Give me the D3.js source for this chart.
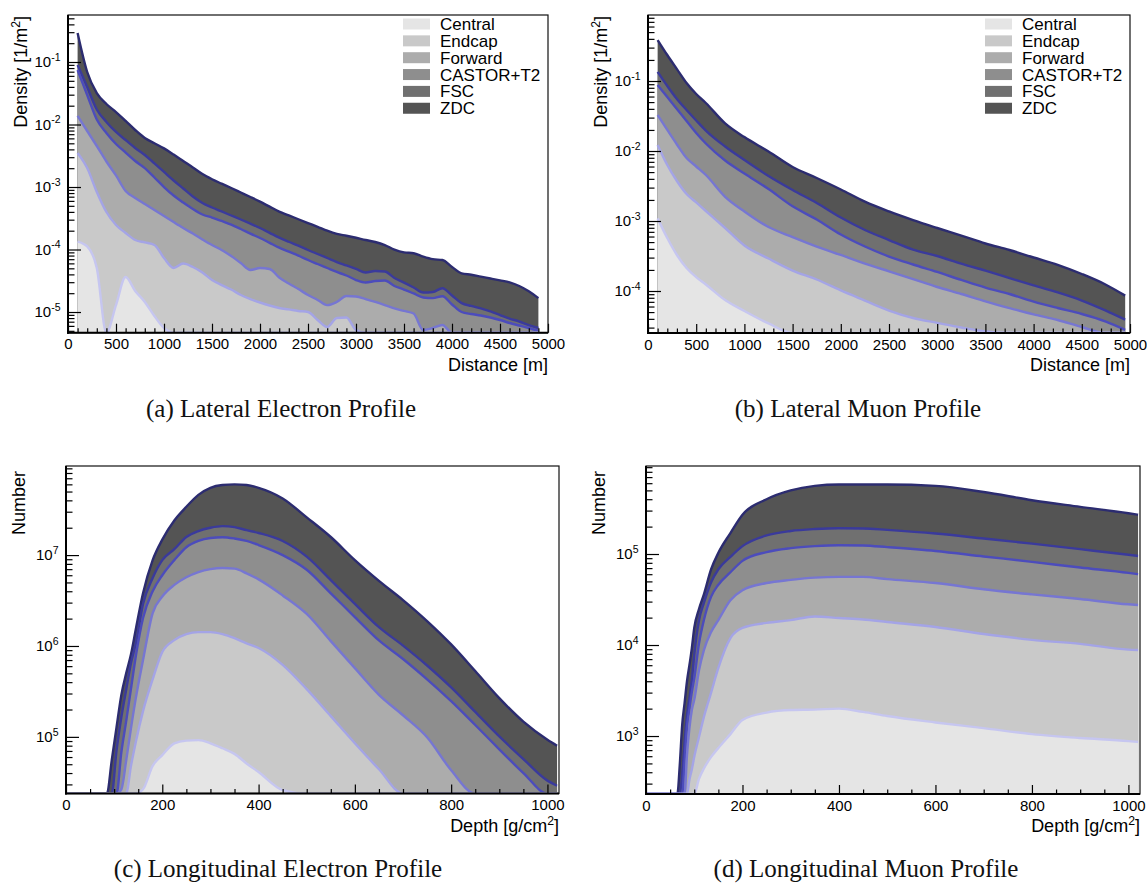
<!DOCTYPE html>
<html>
<head>
<meta charset="utf-8">
<script src="https://cdn.jsdelivr.net/npm/d3@7"></script>
<style>
  body { margin: 0; background: #fff; }
  svg { display: block; }
</style>
</head>
<body>
<svg id="fig" width="1147" height="886"></svg>
<script>
// Detector groups, innermost first; each series below holds the running (stacked) total
// up to and including that detector, so the last series is the full sum.
const detectorNames = ["Central", "Endcap", "Forward", "CASTOR+T2", "FSC", "ZDC"];

// ---- (a) lateral electron density [1/m^2] vs distance [m]
const electronLateralDistance = [100, 200, 300, 400, 500, 600, 700, 800, 900, 1000,
  1100, 1200, 1300, 1400, 1500, 1600, 1700, 1800, 1900, 2000,
  2100, 2200, 2300, 2400, 2500, 2600, 2700, 2800, 2900, 3000,
  3100, 3200, 3300, 3400, 3500, 3600, 3700, 3800, 3900, 4000,
  4100, 4200, 4300, 4400, 4500, 4600, 4700, 4800, 4900];
const electronLateralCentral = [1.34e-4, 1.12e-4, 5.06e-5, 0, 1.29e-5, 3.63e-5, 2.17e-5, 1.45e-5, 8.63e-6, 5.55e-6,
  0, 0, 0, 0, 0, 0, 0, 0, 0, 0, 0, 0, 0, 0, 0, 0, 0, 0, 0, 0,
  0, 0, 0, 0, 0, 0, 0, 0, 0, 0, 0, 0, 0, 0, 0, 0, 0, 0, 0];
const electronLateralEndcap = [3.50e-3, 2.01e-3, 8.32e-4, 3.98e-4, 2.47e-4, 1.84e-4, 1.42e-4, 1.30e-4, 1.18e-4, 7.31e-5,
  5.06e-5, 5.97e-5, 5.25e-5, 4.29e-5, 3.25e-5, 2.70e-5, 2.29e-5, 1.87e-5, 1.61e-5, 1.42e-5,
  1.27e-5, 1.16e-5, 1.10e-5, 1.04e-5, 1.00e-5, 7.45e-6, 5.75e-6, 8.02e-6, 8.17e-6, 5.15e-6,
  0, 0, 0, 0, 0, 0, 0, 0, 0, 0, 0, 0, 0, 0, 0, 0, 0, 0, 0];
const electronLateralForward = [1.37e-2, 7.87e-3, 4.53e-3, 2.56e-3, 1.53e-3, 8.63e-4, 6.67e-4, 5.35e-4, 4.29e-4, 3.44e-4,
  2.75e-4, 2.21e-4, 1.80e-4, 1.45e-4, 1.18e-4, 9.82e-5, 7.87e-5, 6.08e-5, 4.70e-5, 5.06e-5,
  4.88e-5, 3.56e-5, 2.86e-5, 2.33e-5, 1.87e-5, 1.56e-5, 1.29e-5, 1.45e-5, 1.80e-5, 1.77e-5,
  1.61e-5, 1.45e-5, 1.29e-5, 1.14e-5, 1.04e-5, 9.46e-6, 5.15e-6, 5.55e-6, 6.19e-6, 4.60e-6,
  0, 0, 0, 0, 0, 0, 0, 0, 0];
const electronLateralCastor = [7.45e-2, 2.96e-2, 1.20e-2, 7.31e-3, 4.88e-3, 3.56e-3, 2.61e-3, 2.01e-3, 1.42e-3, 1.00e-3,
  7.31e-4, 5.65e-4, 4.45e-4, 3.63e-4, 3.25e-4, 2.86e-4, 2.51e-4, 2.13e-4, 1.79e-4, 1.53e-4,
  1.28e-4, 1.07e-4, 9.23e-5, 7.96e-5, 6.79e-5, 5.86e-5, 5.06e-5, 4.37e-5, 3.84e-5, 3.25e-5,
  2.96e-5, 3.13e-5, 3.19e-5, 2.61e-5, 2.29e-5, 1.98e-5, 1.71e-5, 1.67e-5, 1.79e-5, 1.32e-5,
  1.00e-5, 9.29e-6, 8.79e-6, 8.17e-6, 7.45e-6, 6.67e-6, 6.08e-6, 5.55e-6, 4.97e-6];
const electronLateralFsc = [8.95e-2, 3.98e-2, 1.74e-2, 1.10e-2, 7.59e-3, 5.65e-3, 4.21e-3, 3.25e-3, 2.38e-3, 1.74e-3,
  1.27e-3, 9.46e-4, 7.05e-4, 5.55e-4, 4.70e-4, 4.06e-4, 3.50e-4, 3.02e-4, 2.59e-4, 2.21e-4,
  1.85e-4, 1.55e-4, 1.33e-4, 1.15e-4, 9.82e-5, 8.47e-5, 7.31e-5, 6.31e-5, 5.55e-5, 4.88e-5,
  4.29e-5, 4.53e-5, 4.45e-5, 3.50e-5, 2.96e-5, 2.47e-5, 2.05e-5, 2.09e-5, 2.40e-5, 1.84e-5,
  1.39e-5, 1.25e-5, 1.14e-5, 1.02e-5, 8.95e-6, 7.87e-6, 7.05e-6, 6.19e-6, 5.55e-6];
const electronLateralZdc = [2.91e-1, 6.92e-2, 3.19e-2, 2.13e-2, 1.58e-2, 1.14e-2, 8.17e-3, 6.08e-3, 5.02e-3, 4.15e-3,
  3.31e-3, 2.61e-3, 2.06e-3, 1.61e-3, 1.33e-3, 1.13e-3, 9.64e-4, 8.17e-4, 6.92e-4, 5.83e-4,
  4.85e-4, 4.04e-4, 3.52e-4, 3.05e-4, 2.65e-4, 2.31e-4, 2.00e-4, 1.78e-4, 1.66e-4, 1.54e-4,
  1.42e-4, 1.32e-4, 1.18e-4, 1.00e-4, 9.02e-5, 8.73e-5, 7.69e-5, 7.00e-5, 6.79e-5, 5.25e-5,
  4.16e-5, 3.95e-5, 3.68e-5, 3.44e-5, 3.21e-5, 2.98e-5, 2.61e-5, 2.15e-5, 1.67e-5];

// ---- (b) lateral muon density [1/m^2] vs distance [m]
const muonLateralDistance = [100, 200, 300, 400, 500, 600, 800, 1000, 1250, 1500, 1750, 2000,
  2250, 2500, 2750, 3000, 3250, 3500, 3750, 4000, 4250, 4500, 4750, 4950];
const muonLateralCentral = [1.09e-3, 5.71e-4, 3.27e-4, 2.13e-4, 1.58e-4, 1.24e-4, 7.43e-5, 5.18e-5, 3.44e-5,
  0, 0, 0, 0, 0, 0, 0, 0, 0, 0, 0, 0, 0, 0, 0];
const muonLateralEndcap = [1.22e-2, 6.31e-3, 3.73e-3, 2.43e-3, 1.84e-3, 1.39e-3, 7.94e-4, 4.47e-4, 2.91e-4, 1.96e-4,
  1.46e-4, 1.02e-4, 7.31e-5, 5.26e-5, 4.11e-5, 3.51e-5, 3.01e-5, 2.64e-5, 2.00e-5, 0, 0, 0, 0, 0];
const muonLateralForward = [3.27e-2, 2.00e-2, 1.24e-2, 7.94e-3, 6.01e-3, 4.54e-3, 2.22e-3, 1.37e-3, 8.20e-4, 5.90e-4,
  4.32e-4, 3.27e-4, 2.47e-4, 1.91e-4, 1.48e-4, 1.14e-4, 9.06e-5, 7.13e-5, 5.71e-5, 4.63e-5,
  3.85e-5, 3.06e-5, 2.20e-5, 1.80e-5];
const muonLateralCastor = [8.77e-2, 5.90e-2, 3.98e-2, 2.68e-2, 1.81e-2, 1.28e-2, 7.31e-3, 4.77e-3, 2.86e-3, 1.62e-3,
  1.05e-3, 6.41e-4, 4.32e-4, 3.11e-4, 2.39e-4, 1.87e-4, 1.44e-4, 1.12e-4, 9.06e-5, 7.06e-5,
  5.71e-5, 4.69e-5, 3.66e-5, 2.79e-5];
const muonLateralFsc = [1.35e-1, 8.49e-2, 5.53e-2, 3.85e-2, 2.73e-2, 1.96e-2, 1.16e-2, 7.44e-3, 4.39e-3, 2.77e-3,
  1.81e-3, 1.12e-3, 7.44e-4, 5.35e-4, 3.90e-4, 3.16e-4, 2.46e-4, 1.95e-4, 1.53e-4, 1.20e-4,
  9.55e-5, 7.31e-5, 5.24e-5, 3.89e-5];
const muonLateralZdc = [3.85e-1, 2.35e-1, 1.48e-1, 9.36e-2, 6.52e-2, 4.85e-2, 2.48e-2, 1.58e-2, 9.84e-3, 5.90e-3,
  4.11e-3, 2.82e-3, 1.89e-3, 1.37e-3, 1.03e-3, 7.94e-4, 6.18e-4, 4.77e-4, 3.85e-4, 3.01e-4,
  2.37e-4, 1.75e-4, 1.23e-4, 8.59e-5];

// ---- (c) longitudinal electron number vs depth [g/cm^2]
const electronDepth = [0, 85, 95, 105, 115, 125, 135, 145, 160, 180, 200, 225, 250, 275, 300, 325,
  350, 375, 400, 450, 500, 550, 600, 650, 700, 750, 800, 850, 900, 950, 1000, 1020];
const electronLongCentral = [0, 0, 0, 0, 0, 0, 0, 0, 2.65e4, 4.8e4, 6.3e4, 8.5e4, 9.1e4, 9.2e4, 8.5e4, 7.5e4,
  6.5e4, 5.1e4, 4.1e4, 2.6e4, 0, 0, 0, 0, 0, 0, 0, 0, 0, 0, 0, 0];
const electronLongEndcap = [0, 0, 0, 0, 0, 0, 4.8e4, 8.8e4, 1.92e5, 4.3e5, 8.6e5, 1.16e6, 1.35e6, 1.42e6, 1.42e6, 1.35e6,
  1.22e6, 1.07e6, 9.5e5, 6.2e5, 3.35e5, 1.69e5, 8.5e4, 4.4e4, 0, 0, 0, 0, 0, 0, 0, 0];
const electronLongForward = [0, 0, 0, 0, 2.65e4, 5.5e4, 1.25e5, 2.67e5, 7.0e5, 2.3e6, 3.5e6, 4.7e6, 5.7e6, 6.5e6, 7.0e6, 7.2e6,
  7.1e6, 6.3e6, 5.4e6, 3.6e6, 2.25e6, 1.13e6, 5.7e5, 2.9e5, 1.73e5, 9.9e4, 4.3e4, 0, 0, 0, 0, 0];
const electronLongCastor = [0, 0, 0, 0, 6.8e4, 1.49e5, 3.4e5, 7.7e5, 2.03e6, 4.0e6, 6.0e6, 8.8e6, 1.22e7, 1.43e7, 1.54e7, 1.57e7,
  1.52e7, 1.43e7, 1.29e7, 1.0e7, 6.9e6, 3.8e6, 2.08e6, 1.15e6, 7.2e5, 4.3e5, 2.47e5, 1.35e5, 7.3e4, 4.0e4, 2.2e4, 0];
const electronLongFsc = [0, 0, 0, 7.1e4, 1.65e5, 3.3e5, 6.5e5, 1.07e6, 2.9e6, 5.6e6, 8.8e6, 1.16e7, 1.58e7, 1.84e7, 2.0e7, 2.08e7,
  2.03e7, 1.88e7, 1.75e7, 1.43e7, 9.6e6, 5.3e6, 2.9e6, 1.61e6, 1.01e6, 6.1e5, 3.5e5, 1.88e5, 1.01e5, 5.7e4, 3.3e4, 2.9e4];
const electronLongZdc = [0, 0, 5.5e4, 1.28e5, 2.9e5, 5.0e5, 8.1e5, 1.53e6, 3.8e6, 8.8e6, 1.48e7, 2.4e7, 3.4e7, 4.6e7, 5.5e7, 5.9e7,
  6.0e7, 5.9e7, 5.5e7, 4.2e7, 2.6e7, 1.58e7, 8.8e6, 5.2e6, 3.2e6, 1.88e6, 1.04e6, 5.3e5, 2.67e5, 1.47e5, 9.3e4, 8.0e4];

// ---- (d) longitudinal muon number vs depth [g/cm^2]
const muonDepth = [0, 65, 70, 75, 80, 85, 90, 95, 100, 110, 120, 135, 150, 175, 200, 250, 300,
  350, 400, 450, 500, 600, 700, 800, 900, 1000, 1020];
const muonLongCentral = [0, 0, 0, 0, 0, 0, 0, 0, 0, 3.4e2, 4.4e2, 5.9e2, 7.4e2, 1.05e3, 1.50e3, 1.81e3, 1.93e3,
  1.95e3, 2.0e3, 1.84e3, 1.66e3, 1.41e3, 1.22e3, 1.05e3, 9.5e2, 8.8e2, 8.6e2];
const muonLongEndcap = [0, 0, 0, 0, 0, 0, 3.3e2, 4.3e2, 5.9e2, 9.8e2, 1.62e3, 3.0e3, 5.6e3, 1.19e4, 1.54e4, 1.75e4, 1.88e4,
  2.06e4, 1.98e4, 1.91e4, 1.79e4, 1.58e4, 1.32e4, 1.14e4, 1.03e4, 8.9e3, 8.8e3];
const muonLongForward = [0, 0, 0, 0, 0, 6.2e2, 1.22e3, 1.93e3, 2.5e3, 5.3e3, 8.8e3, 1.39e4, 1.88e4, 3.1e4, 4.0e4, 4.8e4, 5.2e4,
  5.5e4, 5.6e4, 5.6e4, 5.3e4, 4.8e4, 4.1e4, 3.6e4, 3.2e4, 2.8e4, 2.75e4];
const muonLongCastor = [0, 0, 0, 0, 5.4e2, 1.29e3, 2.0e3, 3.05e3, 4.3e3, 1.05e4, 1.88e4, 3.4e4, 4.6e4, 6.3e4, 8.4e4, 1.05e5, 1.16e5,
  1.22e5, 1.25e5, 1.24e5, 1.19e5, 1.08e5, 9.4e4, 8.2e4, 7.1e4, 6.2e4, 6.0e4];
const muonLongFsc = [0, 0, 0, 3.8e2, 8.6e2, 1.7e3, 2.6e3, 4.1e3, 7.8e3, 1.88e4, 2.9e4, 4.9e4, 6.8e4, 9.3e4, 1.22e5, 1.60e5, 1.79e5,
  1.88e5, 1.92e5, 1.91e5, 1.84e5, 1.68e5, 1.48e5, 1.30e5, 1.13e5, 9.8e4, 9.5e4];
const muonLongZdc = [0, 0, 4.8e2, 1.32e3, 2.3e3, 4.0e3, 6.0e3, 9.2e3, 1.54e4, 2.5e4, 3.6e4, 6.8e4, 1.03e5, 1.70e5, 2.7e5, 4.0e5, 5.0e5,
  5.6e5, 5.8e5, 5.8e5, 5.8e5, 5.6e5, 4.8e5, 3.9e5, 3.3e5, 2.8e5, 2.7e5];

// ---- axis tick values
const distanceTicks = [0, 500, 1000, 1500, 2000, 2500, 3000, 3500, 4000, 4500, 5000];
const depthTicks = [0, 200, 400, 600, 800, 1000];
const electronLateralDecades = [-5, -4, -3, -2, -1];
const muonLateralDecades = [-4, -3, -2, -1];
const electronLongDecades = [5, 6, 7];
const muonLongDecades = [3, 4, 5];

// ---- styling
const layerFill = ["#e5e5e5", "#c9c9c9", "#acacac", "#8e8e8e", "#707070", "#545454"];
const layerLine = ["#c6c6f0", "#a4a4e6", "#7676d2", "#4c4cbc", "#3a3a9c", "#2c2c70"];
const SANS = "'Liberation Sans', Arial, Helvetica, sans-serif";
const SERIF = "'Liberation Serif', 'Times New Roman', serif";

const svg = d3.select("#fig");
const defs = svg.append("defs");

const panels = [
  {
    xs: electronLateralDistance,
    series: [electronLateralCentral, electronLateralEndcap, electronLateralForward,
             electronLateralCastor, electronLateralFsc, electronLateralZdc],
    left: 68, right: 548, top: 15, bottom: 332.7,
    xDomain: [0, 5000], yLog: [-5.331, -0.248],
    xTicks: distanceTicks, xMinorStep: 100, decades: electronLateralDecades,
    xTitle: ["Distance [m]", ""], yTitle: ["Density [1/m", "2", "]"], yTitleEnd: 1,
    legend: true, caption: "(a) Lateral Electron Profile", capX: 281, capY: 417
  },
  {
    xs: muonLateralDistance,
    series: [muonLateralCentral, muonLateralEndcap, muonLateralForward,
             muonLateralCastor, muonLateralFsc, muonLateralZdc],
    left: 648, right: 1130, top: 15, bottom: 333,
    xDomain: [0, 5000], yLog: [-4.6, -0.057],
    xTicks: distanceTicks, xMinorStep: 100, decades: muonLateralDecades,
    xTitle: ["Distance [m]", ""], yTitle: ["Density [1/m", "2", "]"], yTitleEnd: 1,
    legend: true, caption: "(b) Lateral Muon Profile", capX: 858, capY: 417
  },
  {
    xs: electronDepth,
    series: [electronLongCentral, electronLongEndcap, electronLongForward,
             electronLongCastor, electronLongFsc, electronLongZdc],
    left: 66, right: 559, top: 466, bottom: 793.5,
    xDomain: [0, 1024], yLog: [4.377, 7.98],
    xTicks: depthTicks, xMinorStep: 50, decades: electronLongDecades,
    xTitle: ["Depth [g/cm", "2", "]"], yTitle: ["Number"], yTitleEnd: 5,
    legend: false, caption: "(c) Longitudinal Electron Profile", capX: 278, capY: 877
  },
  {
    xs: muonDepth,
    series: [muonLongCentral, muonLongEndcap, muonLongForward,
             muonLongCastor, muonLongFsc, muonLongZdc],
    left: 646, right: 1140, top: 466, bottom: 794,
    xDomain: [0, 1024], yLog: [2.363, 5.967],
    xTicks: depthTicks, xMinorStep: 50, decades: muonLongDecades,
    xTitle: ["Depth [g/cm", "2", "]"], yTitle: ["Number"], yTitleEnd: 5,
    legend: false, caption: "(d) Longitudinal Muon Profile", capX: 866, capY: 877
  }
];

// text with an optional superscript in the middle: [before, sup, after]
function richText(sel, parts, size) {
  sel.append("tspan").text(parts[0]);
  if (parts.length > 1 && parts[1]) {
    sel.append("tspan").attr("dy", -7).attr("font-size", size * 0.68).text(parts[1]);
    sel.append("tspan").attr("dy", 7).text(parts[2]);
  }
}

function drawPanel(p, idx) {
  const yMin = Math.pow(10, p.yLog[0]);
  const yMax = Math.pow(10, p.yLog[1]);
  const x = d3.scaleLinear().domain(p.xDomain).range([p.left, p.right]);
  const y = d3.scaleLog().domain([yMin, yMax]).range([p.bottom, p.top]);
  const g = svg.append("g");

  const clipId = "frame-clip-" + idx;
  defs.append("clipPath").attr("id", clipId).append("rect")
    .attr("x", p.left).attr("y", p.top)
    .attr("width", p.right - p.left).attr("height", p.bottom - p.top);

  // values under the axis minimum (or empty bins) sit on the lower frame edge
  const yOf = v => (v > yMin ? y(v) : p.bottom);
  const area = d3.area().x(d => d[0]).y0(p.bottom).y1(d => d[1]).curve(d3.curveMonotoneX);
  const line = d3.line().x(d => d[0]).y(d => d[1]).curve(d3.curveMonotoneX);

  const plot = g.append("g").attr("clip-path", `url(#${clipId})`);
  // stack: draw the full sum first, then each partial total on top of it
  for (let i = p.series.length - 1; i >= 0; i--) {
    const pts = p.xs.map((d, k) => [x(d), yOf(p.series[i][k])]);
    plot.append("path").attr("d", area(pts)).attr("fill", layerFill[i]);
    plot.append("path").attr("d", line(pts))
      .attr("fill", "none").attr("stroke", layerLine[i])
      .attr("stroke-width", 2.4).attr("stroke-linejoin", "round");
  }

  // x axis: labelled major ticks and small minor ticks, all pointing inward
  const xMinor = d3.range(p.xDomain[0], p.xDomain[1] + 1, p.xMinorStep)
    .filter(v => p.xTicks.indexOf(v) < 0);
  const gxMinor = g.append("g").attr("transform", `translate(0,${p.bottom})`)
    .call(d3.axisBottom(x).tickValues(xMinor).tickSize(-4.5).tickSizeOuter(0).tickFormat(""));
  const gx = g.append("g").attr("transform", `translate(0,${p.bottom})`)
    .call(d3.axisBottom(x).tickValues(p.xTicks).tickSize(-9).tickSizeOuter(0)
      .tickPadding(6).tickFormat(d3.format("d")));
  [gx, gxMinor].forEach(a => {
    a.select(".domain").remove();
    a.selectAll("line").attr("stroke", "#000").attr("stroke-width", 1.2);
  });
  gx.selectAll("text").attr("font-size", 15).attr("font-family", SANS).attr("fill", "#000");

  // y axis: decades with power-of-ten labels, 2..9 minor ticks
  const yMinor = [];
  for (let k = Math.floor(p.yLog[0]); k <= Math.ceil(p.yLog[1]); k++) {
    for (let m = 2; m <= 9; m++) {
      const v = m * Math.pow(10, k);
      if (v >= yMin && v <= yMax) yMinor.push(v);
    }
  }
  const gyMinor = g.append("g").attr("transform", `translate(${p.left},0)`)
    .call(d3.axisLeft(y).tickValues(yMinor).tickSize(-6.5).tickSizeOuter(0).tickFormat(""));
  const gy = g.append("g").attr("transform", `translate(${p.left},0)`)
    .call(d3.axisLeft(y).tickValues(p.decades.map(e => Math.pow(10, e)))
      .tickSize(-13).tickSizeOuter(0).tickPadding(7.5).tickFormat(() => ""));
  [gy, gyMinor].forEach(a => {
    a.select(".domain").remove();
    a.selectAll("line").attr("stroke", "#000").attr("stroke-width", 1.2);
  });
  gy.selectAll(".tick text").each(function (d) {
    const t = d3.select(this).attr("font-size", 15).attr("font-family", SANS).attr("fill", "#000");
    const e = Math.round(Math.log10(d));
    t.append("tspan").text("10");
    t.append("tspan").attr("dy", -6.5).attr("font-size", 10.5).text(String(e));
  });

  // frame
  g.append("rect").attr("x", p.left).attr("y", p.top)
    .attr("width", p.right - p.left).attr("height", p.bottom - p.top)
    .attr("fill", "none").attr("stroke", "#111").attr("stroke-width", 1.2);
  g.append("line").attr("x1", p.left).attr("x2", p.left).attr("y1", p.top).attr("y2", p.bottom + 1)
    .attr("stroke", "#000").attr("stroke-width", 2);
  g.append("line").attr("x1", p.left - 1).attr("x2", p.right).attr("y1", p.bottom).attr("y2", p.bottom)
    .attr("stroke", "#000").attr("stroke-width", 2);

  // axis titles, aligned with the far end of each axis
  const xt = g.append("text").attr("x", p.right).attr("y", p.bottom + 38)
    .attr("text-anchor", "end").attr("font-family", SANS).attr("font-size", 18).attr("fill", "#000");
  richText(xt, p.xTitle, 18);
  const yt = g.append("text")
    .attr("transform", `translate(${p.left - 41},${p.top + p.yTitleEnd}) rotate(-90)`)
    .attr("text-anchor", "end").attr("font-family", SANS).attr("font-size", 18).attr("fill", "#000");
  richText(yt, p.yTitle, 18);

  // legend
  if (p.legend) {
    const lg = g.append("g");
    detectorNames.forEach((name, i) => {
      const cy = p.top + 9 + i * 16.85;
      lg.append("rect").attr("x", p.right - 145).attr("y", cy - 5.5)
        .attr("width", 27).attr("height", 11).attr("fill", layerFill[i]);
      lg.append("text").attr("x", p.right - 108).attr("y", cy + 6)
        .attr("font-family", SANS).attr("font-size", 17).attr("fill", "#000").text(name);
    });
  }

  // sub-figure caption
  svg.append("text").attr("x", p.capX).attr("y", p.capY)
    .attr("text-anchor", "middle").attr("font-family", SERIF).attr("font-size", 25)
    .attr("fill", "#111").text(p.caption);
}

panels.forEach(drawPanel);
</script>
</body>
</html>
